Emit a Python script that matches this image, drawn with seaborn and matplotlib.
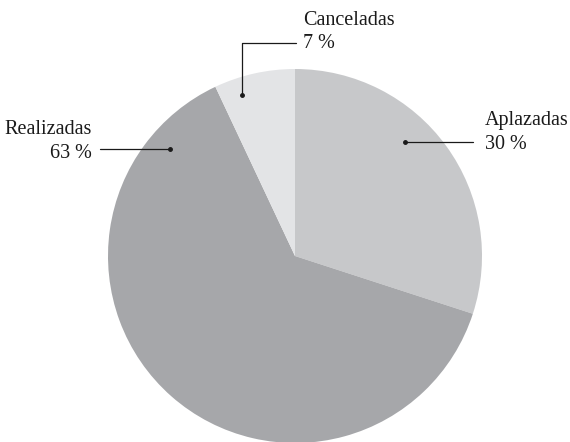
import matplotlib
matplotlib.use("Agg")
import matplotlib.pyplot as plt
import seaborn as sns

# Data
labels = ["Aplazadas", "Realizadas", "Canceladas"]
shares = [30, 63, 7]
colors = ["#c7c8ca", "#a6a7aa", "#e3e4e6"]

sns.set_theme(style="white")
plt.rcParams["font.family"] = ["Liberation Serif", "DejaVu Serif"]

W, H = 570, 442
fig = plt.figure(figsize=(W / 100, H / 100), dpi=100)
ax = fig.add_axes([0, 0, 1, 1])


def py(y):
    # convert top-down pixel row to axis y
    return H - y


ax.pie(shares, colors=colors, startangle=90, counterclock=False,
       center=(295, py(256)), radius=187, frame=True,
       wedgeprops=dict(linewidth=0))
ax.set_xlim(0, W)
ax.set_ylim(0, H)
ax.set_aspect("equal")
ax.axis("off")

fs = 14.5
lw = 0.9
lc = "#1a1a1a"
tc = "#1a1a1a"


def label_text(i, x, y1, y2, ha):
    ax.text(x, py(y1), labels[i], ha=ha, va="baseline", fontsize=fs, color=tc)
    ax.text(x, py(y2), f"{shares[i]} %", ha=ha, va="baseline", fontsize=fs, color=tc)


# Aplazadas
label_text(0, 485, 125, 149, "left")
ax.plot([473, 405], [py(142), py(142)], color=lc, lw=lw)
ax.plot([405], [py(142)], "o", color=lc, ms=2.5)

# Realizadas
label_text(1, 92, 134, 158, "right")
ax.plot([100, 170], [py(149), py(149)], color=lc, lw=lw)
ax.plot([170], [py(149)], "o", color=lc, ms=2.5)

# Canceladas
label_text(2, 303, 25, 48, "left")
ax.plot([296, 242, 242], [py(43), py(43), py(95)], color=lc, lw=lw)
ax.plot([242], [py(95)], "o", color=lc, ms=2.5)

fig.savefig("out.png", dpi=100, facecolor="white")
